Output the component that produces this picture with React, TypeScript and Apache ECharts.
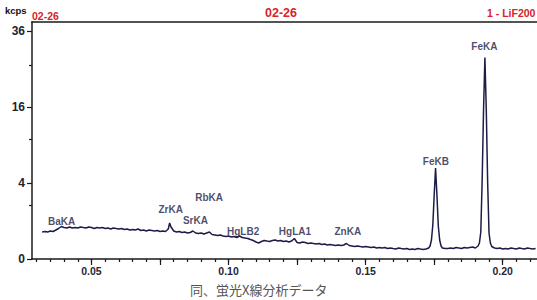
import React, { useEffect, useRef } from "react";
import * as echarts from "echarts";

// Spectrum: 2θ-like position (x) and intensity in kcps (y)
const energy = [
  0.032, 0.033, 0.034, 0.035, 0.036, 0.037, 0.038, 0.039, 0.040, 0.041,
  0.042, 0.043, 0.044, 0.045, 0.046, 0.047, 0.048, 0.049, 0.050, 0.051,
  0.052, 0.053, 0.054, 0.055, 0.056, 0.057, 0.058, 0.059, 0.060, 0.061,
  0.062, 0.063, 0.064, 0.065, 0.066, 0.067, 0.068, 0.069, 0.070, 0.071,
  0.072, 0.073, 0.074, 0.075, 0.076, 0.077, 0.078, 0.0785, 0.079, 0.080,
  0.081, 0.082, 0.083, 0.084, 0.085, 0.086, 0.087, 0.088, 0.089, 0.090,
  0.091, 0.092, 0.093, 0.094, 0.095, 0.096, 0.097, 0.098, 0.099, 0.100,
  0.101, 0.102, 0.103, 0.104, 0.105, 0.106, 0.107, 0.108, 0.109, 0.110,
  0.111, 0.112, 0.113, 0.114, 0.115, 0.116, 0.117, 0.118, 0.119, 0.120,
  0.121, 0.122, 0.123, 0.124, 0.125, 0.126, 0.127, 0.128, 0.129, 0.130,
  0.131, 0.132, 0.133, 0.134, 0.135, 0.136, 0.137, 0.138, 0.139, 0.140,
  0.141, 0.142, 0.143, 0.144, 0.145, 0.146, 0.147, 0.148, 0.149, 0.150,
  0.151, 0.152, 0.153, 0.154, 0.155, 0.156, 0.157, 0.158, 0.159, 0.160,
  0.161, 0.162, 0.163, 0.164, 0.165, 0.166, 0.167, 0.168, 0.169, 0.170,
  0.171, 0.172, 0.173, 0.1735, 0.174, 0.1745, 0.175, 0.1755, 0.176, 0.1765,
  0.177, 0.1775, 0.178, 0.179, 0.180, 0.181, 0.182, 0.183, 0.184, 0.185,
  0.186, 0.187, 0.188, 0.189, 0.190, 0.191, 0.1915, 0.192, 0.1925, 0.193,
  0.1935, 0.194, 0.1945, 0.195, 0.1955, 0.196, 0.197, 0.198, 0.199, 0.200,
  0.201, 0.202, 0.203, 0.204, 0.205, 0.206, 0.207, 0.208, 0.209, 0.210,
  0.211, 0.212,
];
const kcps = [
  0.505, 0.524, 0.505, 0.543, 0.524, 0.582, 0.644, 0.731, 0.687, 0.666,
  0.709, 0.666, 0.687, 0.666, 0.709, 0.687, 0.666, 0.709, 0.687, 0.644,
  0.687, 0.666, 0.687, 0.644, 0.666, 0.623, 0.666, 0.644, 0.623, 0.644,
  0.603, 0.623, 0.582, 0.603, 0.582, 0.623, 0.563, 0.582, 0.543, 0.582,
  0.563, 0.543, 0.563, 0.524, 0.543, 0.524, 0.623, 0.897, 0.709, 0.543,
  0.505, 0.524, 0.486, 0.505, 0.468, 0.486, 0.543, 0.468, 0.45, 0.468,
  0.433, 0.468, 0.505, 0.416, 0.399, 0.382, 0.399, 0.366, 0.351, 0.366,
  0.335, 0.351, 0.32, 0.366, 0.32, 0.305, 0.291, 0.263, 0.237, 0.2,
  0.177, 0.212, 0.237, 0.224, 0.212, 0.237, 0.25, 0.224, 0.237, 0.212,
  0.224, 0.2, 0.224, 0.291, 0.189, 0.177, 0.2, 0.189, 0.166, 0.177,
  0.166, 0.156, 0.166, 0.146, 0.156, 0.136, 0.146, 0.136, 0.126, 0.136,
  0.126, 0.136, 0.166, 0.126, 0.117, 0.108, 0.117, 0.108, 0.1, 0.108,
  0.1, 0.092, 0.1, 0.084, 0.092, 0.084, 0.092, 0.076, 0.084, 0.076,
  0.069, 0.084, 0.076, 0.069, 0.076, 0.0625, 0.069, 0.0625, 0.076, 0.069,
  0.0625, 0.069, 0.084, 0.117, 0.25, 0.8, 2.84, 5.73, 2.84, 0.754,
  0.25, 0.117, 0.084, 0.076, 0.076, 0.084, 0.076, 0.092, 0.084, 0.076,
  0.092, 0.084, 0.092, 0.1, 0.084, 0.117, 0.177, 0.505, 4.32, 15.4,
  28.1, 15.4, 4.11, 0.468, 0.177, 0.108, 0.084, 0.076, 0.084, 0.069,
  0.076, 0.069, 0.084, 0.076, 0.069, 0.084, 0.076, 0.069, 0.084, 0.076,
  0.069, 0.076,
];

// Axis ticks (y axis is a square-root intensity scale)
const yTickLabels = [0, 4, 16, 36];
const yMinorTicks = [2, 10, 26];
const xTickLabels = [0.05, 0.1, 0.15, 0.2];
const xMajorTicks = [0.05, 0.075, 0.1, 0.125, 0.15, 0.175, 0.2];
const xMinorTicks = [
  0.03, 0.035, 0.04, 0.045, 0.05, 0.055, 0.06, 0.065, 0.07, 0.075, 0.08,
  0.085, 0.09, 0.095, 0.1, 0.105, 0.11, 0.115, 0.12, 0.125, 0.13, 0.135,
  0.14, 0.145, 0.15, 0.155, 0.16, 0.165, 0.17, 0.175, 0.18, 0.185, 0.19,
  0.195, 0.2, 0.205, 0.21,
];

// Peak annotations
const peakNames = ["BaKA", "ZrKA", "RbKA", "SrKA", "HgLB2", "HgLA1", "ZnKA", "FeKB", "FeKA"];
const peakLabelX = [0.0391, 0.0789, 0.0929, 0.0879, 0.1053, 0.1242, 0.1435, 0.1756, 0.1933];
const peakLabelY = [0.964, 1.73, 2.66, 1.02, 0.505, 0.505, 0.505, 6.56, 31.4];

const X_MIN = 0.0283;
const X_MAX = 0.2125;
const Y_MAX = 39;

const INK = "#1c1c46";
const AXIS = "#1a1a1a";
const RED = "#d8232a";

export default function App() {
  const ref = useRef<HTMLDivElement>(null);
  useEffect(() => {
    if (!ref.current) return;
    const chart = echarts.init(ref.current, undefined, { renderer: "svg" });
    const sq = (v: number) => Math.sqrt(v);
    const labelFont = { fontFamily: "Liberation Sans, Arial, sans-serif", fontWeight: "bold" as const };
    chart.setOption({
      animation: false,
      backgroundColor: "#ffffff",
      grid: { left: 32, right: 0, top: 21.7, bottom: 41, containLabel: false },
      xAxis: [
        {
          type: "value",
          min: X_MIN,
          max: X_MAX,
          position: "bottom",
          axisLine: { show: true, onZero: false, lineStyle: { color: AXIS, width: 1.5 } },
          axisTick: { show: true, customValues: xMinorTicks, length: 3, lineStyle: { color: AXIS, width: 1.2 } },
          axisLabel: {
            show: true,
            customValues: xTickLabels,
            formatter: (v: number) => v.toFixed(2),
            margin: 6,
            fontSize: 10.5,
            color: "#26263a",
            ...labelFont,
          },
          splitLine: { show: false },
        },
        {
          type: "value",
          min: X_MIN,
          max: X_MAX,
          position: "bottom",
          offset: 0,
          axisLine: { show: false },
          axisTick: { show: true, customValues: xMajorTicks, length: 6, lineStyle: { color: AXIS, width: 1.2 } },
          axisLabel: { show: false },
          splitLine: { show: false },
        },
        {
          type: "value",
          min: X_MIN,
          max: X_MAX,
          position: "top",
          axisLine: { show: true, onZero: false, lineStyle: { color: AXIS, width: 1.5 } },
          axisTick: { show: false },
          axisLabel: { show: false },
          splitLine: { show: false },
        },
      ],
      yAxis: [
        {
          type: "value",
          min: 0,
          max: sq(Y_MAX),
          position: "left",
          axisLine: { show: true, onZero: false, lineStyle: { color: AXIS, width: 1.5 } },
          axisTick: { show: true, customValues: yTickLabels.map(sq), length: 5, lineStyle: { color: AXIS, width: 1.2 } },
          axisLabel: {
            show: true,
            customValues: yTickLabels.map(sq),
            formatter: (v: number) => String(Math.round(v * v)),
            margin: 7,
            fontSize: 12,
            color: "#22222e",
            ...labelFont,
          },
          splitLine: { show: false },
        },
        {
          type: "value",
          min: 0,
          max: sq(Y_MAX),
          position: "left",
          offset: 0,
          axisLine: { show: false },
          axisTick: { show: true, customValues: yMinorTicks.map(sq), length: 3, lineStyle: { color: AXIS, width: 1.2 } },
          axisLabel: { show: false },
          splitLine: { show: false },
        },
      ],
      series: [
        {
          type: "line",
          xAxisIndex: 0,
          yAxisIndex: 0,
          showSymbol: false,
          symbol: "none",
          lineStyle: { color: INK, width: 1.5 },
          data: energy.map((x, i) => [x, sq(kcps[i])]),
          z: 3,
        },
        {
          type: "scatter",
          xAxisIndex: 0,
          yAxisIndex: 0,
          symbolSize: 1,
          itemStyle: { color: "transparent" },
          label: {
            show: true,
            position: "inside",
            formatter: (p: any) => peakNames[p.dataIndex],
            fontSize: 10,
            color: INK,
            ...labelFont,
          },
          data: peakLabelX.map((x, i) => [x, sq(peakLabelY[i])]),
          z: 4,
        },
      ],
      graphic: [
        {
          type: "text",
          left: 5,
          top: 5,
          style: { text: "kcps", fontSize: 9.5, fill: "#111", ...labelFont },
        },
        {
          type: "text",
          left: 32,
          top: 10,
          style: { text: "02-26", fontSize: 10.5, fill: RED, ...labelFont },
        },
        {
          type: "text",
          left: 265,
          top: 6,
          style: { text: "02-26", fontSize: 12.5, fill: RED, ...labelFont },
        },
        {
          type: "text",
          left: 487,
          top: 7.5,
          style: { text: "1 - LiF200", fontSize: 10.5, fill: RED, ...labelFont },
        },
        {
          type: "text",
          left: 190,
          top: 283,
          style: {
            text: "同、蛍光X線分析データ",
            fontSize: 13,
            fill: "#555",
            fontFamily: "Noto Sans CJK JP, sans-serif",
          },
        },
      ],
    });
    return () => chart.dispose();
  }, []);
  return (
    <div
      ref={ref}
      style={{ position: "fixed", left: 0, top: 0, width: 537, height: 300, background: "#fff" }}
    />
  );
}
